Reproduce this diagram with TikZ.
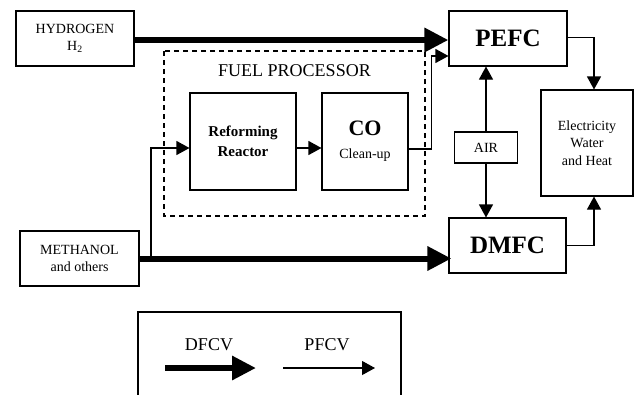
\documentclass[tikz,border=0pt]{standalone}
\usepackage{fontspec}
\setmainfont{Liberation Serif}
\usetikzlibrary{arrows.meta}
\tikzset{
  box/.style={draw, line width=1.1pt, inner sep=0pt, align=center, fill=white},
  txt/.style={font=\fontsize{14}{17.5}\selectfont},
  big/.style={font=\fontsize{25}{28}\selectfont\bfseries},
  thin/.style={line width=1.1pt, -{Triangle[length=13pt,width=14pt]}},
  fat/.style={line width=6pt, -{Triangle[length=24pt,width=23pt]}},
}
\begin{document}
\begin{tikzpicture}[x=1pt,y=-1pt]
\useasboundingbox (0,0) rectangle (636,394);
% dashed fuel processor frame
\draw[line width=1.1pt, dash pattern=on 5pt off 4pt] (164,51) rectangle (425,216);
\node[font=\fontsize{18}{20}\selectfont] (fp) at (294.5,71) {FUEL PROCESSOR};
% nodes
\node[box, txt, minimum width=118pt, minimum height=55pt] (hyd) at (75,38.5) {HYDROGEN\\H\textsubscript{2}};
\node[box, big, minimum width=118pt, minimum height=55pt] (pefc) at (508,38.5) {PEFC};
\node[box, font=\fontsize{15}{20}\selectfont\bfseries, minimum width=106pt, minimum height=97pt] (ref) at (243,141.5) {Reforming\\Reactor};
\node[box, font=\fontsize{14}{23}\selectfont, minimum width=86pt, minimum height=97pt] (co) at (365,141.5) {{\fontsize{22}{22}\selectfont\bfseries CO}\\Clean-up};
\node[box, txt, minimum width=119pt, minimum height=55pt] (meth) at (79.5,258.5) {METHANOL\\and others};
\node[box, big, minimum width=117pt, minimum height=55pt] (dmfc) at (507.5,245.5) {DMFC};
\node[box, txt, minimum width=63pt, minimum height=31pt] (air) at (486,147.5) {AIR};
\node[box, txt, minimum width=92pt, minimum height=106pt] (elec) at (587,143) {Electricity\\Water\\and Heat};
% connectors
\draw[fat] (hyd.east) ++(0,-1.5pt) coordinate (h1) -- (h1 -| pefc.west);
\draw[fat] (meth.east) -- ([xshift=3pt]meth.east -| dmfc.west);
\coordinate (br) at (151,258.5);
\draw[thin] (br) |- ([yshift=-6.5pt]ref.west);
\draw[thin] ([yshift=-6.5pt]ref.east) -- ([yshift=-6.5pt]ref.east -| co.west);
\draw[thin] ([yshift=-7.5pt]co.east) -- ++(23,0) |- ([yshift=-17.5pt]pefc.west);
\draw[thin] (air.north) -- (air.north |- pefc.south);
\draw[thin] (air.south) -- (air.south |- dmfc.north);
\draw[thin] ([yshift=1pt]pefc.east) -| ([xshift=7pt]elec.north);
\draw[thin] (dmfc.east) -| ([xshift=7pt]elec.south);
% legend
\draw[line width=1.1pt] (138,396) -- (138,312) -- (401,312) -- (401,396);
\node[font=\fontsize{18}{20}\selectfont] (dl) at (209,345) {DFCV};
\node[font=\fontsize{18}{20}\selectfont] (pl) at (327,345) {PFCV};
\coordinate (d1) at (165,368);
\coordinate (d2) at (256,368);
\coordinate (p1) at (283,368);
\coordinate (p2) at (375,368);
\draw[fat] (d1) -- (d2);
\draw[thin] (p1) -- (p2);
\end{tikzpicture}
\end{document}
